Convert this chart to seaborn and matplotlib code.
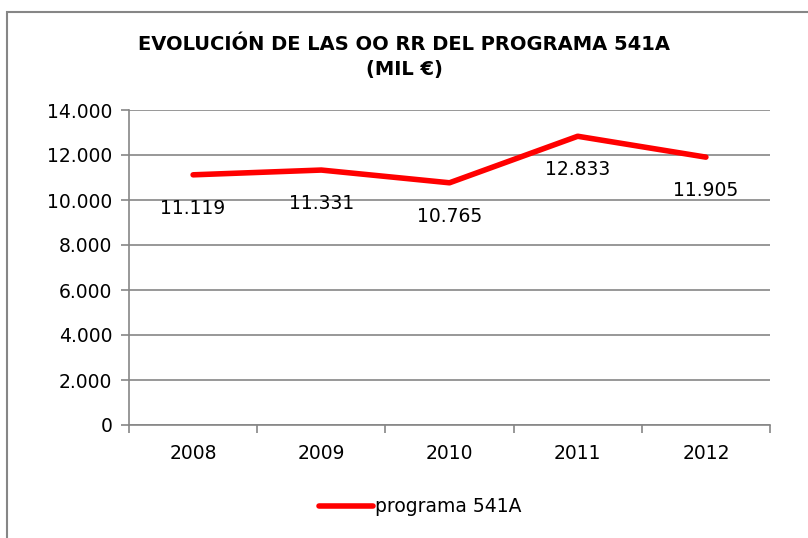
import pandas as pd
import matplotlib.pyplot as plt
import seaborn as sns
from matplotlib.patches import Rectangle
from matplotlib.ticker import FuncFormatter, FixedLocator

# ---------- DATA ----------
years = ["2008", "2009", "2010", "2011", "2012"]
values = [11119, 11331, 10765, 12833, 11905]
series_name = "programa 541A"
# --------------------------

df = pd.DataFrame({"year": years, "value": values, "serie": series_name})

def fmt_es(v, pos=None):
    return f"{int(round(v)):,}".replace(",", ".")

sns.set_style("white")
plt.rcParams["font.family"] = ["DejaVu Sans"]
plt.rcParams["text.color"] = "black"

fig = plt.figure(figsize=(8.08, 5.38), dpi=100)
ax = fig.add_axes([129 / 808, 1 - 425 / 538, 641 / 808, 315 / 538])

sns.lineplot(data=df, x="year", y="value", hue="serie", palette=["#FF0000"],
             linewidth=4, sort=False, ax=ax)

ax.set_xlim(-0.5, 4.5)
ax.set_ylim(0, 14000)
ax.set_yticks(range(0, 14001, 2000))
ax.yaxis.set_major_formatter(FuncFormatter(fmt_es))
ax.yaxis.grid(True, color="#868686", linewidth=1.2)
ax.set_axisbelow(True)
ax.set_xlabel("")
ax.set_ylabel("")

for s in ["top", "right"]:
    ax.spines[s].set_visible(False)
for s in ["left", "bottom"]:
    ax.spines[s].set_color("#868686")
    ax.spines[s].set_linewidth(1.2)

ax.tick_params(axis="y", left=True, length=6, color="#868686", width=1.2,
               labelsize=13.5, pad=6, labelcolor="black")
ax.tick_params(axis="x", which="major", bottom=True, length=0, labelsize=13.5,
               pad=14, labelcolor="black")
ax.xaxis.set_minor_locator(FixedLocator([-0.5, 0.5, 1.5, 2.5, 3.5, 4.5]))
ax.tick_params(axis="x", which="minor", bottom=True, length=6,
               color="#868686", width=1.2)

for i, v in enumerate(values):
    ax.annotate(fmt_es(v), (i, v), xytext=(0, -24), textcoords="offset points",
                ha="center", va="center", fontsize=13.5, color="black")

fig.text(0.5, 1 - 45 / 538, "EVOLUCIÓN DE LAS OO RR DEL PROGRAMA 541A",
         ha="center", va="center", fontsize=14, fontweight="bold")
fig.text(0.5, 1 - 70 / 538, "(MIL €)",
         ha="center", va="center", fontsize=14, fontweight="bold")

leg = ax.legend(loc="center", bbox_to_anchor=(420 / 808, 1 - 507 / 538),
                bbox_transform=fig.transFigure, frameon=False, fontsize=13.5,
                handlelength=2.9, handletextpad=0.1)
for t in leg.get_texts():
    t.set_color("black")

fig.patches.append(Rectangle((7 / 808, -0.05), 1.1, 1 - 12 / 538 + 0.05,
                             transform=fig.transFigure, fill=False,
                             edgecolor="#868686", linewidth=1.5))

fig.savefig("out.png", dpi=100)
